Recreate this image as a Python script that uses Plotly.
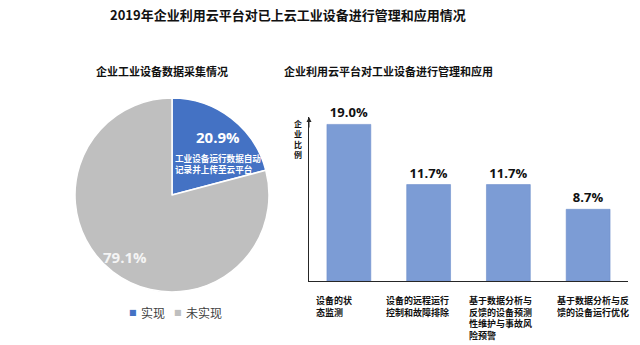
import plotly.graph_objects as go

# ---- data ----
pie_labels = ["实现", "未实现"]
pie_values = [20.9, 79.1]
pie_colors = ["#4472C4", "#BFBFBF"]
pie_note = "工业设备运行数据自动<br>记录并上传至云平台"

bar_categories = [
    "设备的状<br>态监测",
    "设备的远程运行<br>控制和故障排除",
    "基于数据分析与<br>反馈的设备预测<br>性维护与事故风<br>险预警",
    "基于数据分析与反<br>馈的设备运行优化",
]
bar_values = [19.0, 11.7, 11.7, 8.7]

title_text = "2019年企业利用云平台对已上云工业设备进行管理和应用情况"
pie_title = "企业工业设备数据采集情况"
bar_title = "企业利用云平台对工业设备进行管理和应用"
y_title = "企<br>业<br>比<br>例"

W, H = 640, 345
CJK = "Noto Sans CJK SC"
LAT = "Open Sans, " + CJK


def px(x):
    return x / W


def py(y):
    return 1 - y / H


def label(text, x, y, size, color="#111111", family=CJK, xanchor="center", **kw):
    return dict(text=text, x=px(x), y=py(y), xref="paper", yref="paper",
                xanchor=xanchor, yanchor=kw.pop("yanchor", "middle"), showarrow=False,
                font=dict(family=family, size=size, color=color), **kw)


fig = go.Figure()

fig.add_trace(go.Pie(
    labels=pie_labels,
    values=pie_values,
    marker=dict(colors=pie_colors, line=dict(color="white", width=1.5)),
    sort=False,
    direction="clockwise",
    rotation=0,
    textinfo="none",
    hoverinfo="label+percent",
    domain=dict(x=[px(75), px(269)], y=[py(292), py(98)]),
    showlegend=False,
))

fig.add_trace(go.Bar(
    x=list(range(len(bar_categories))),
    y=bar_values,
    marker=dict(color="#7C9CD5", line=dict(color="#6F8FCB", width=0.6)),
    width=0.55,
    text=[f"{v:.1f}%" for v in bar_values],
    textposition="outside",
    textfont=dict(family=LAT, size=13, color="#111111", weight="bold"),
    cliponaxis=False,
    showlegend=False,
    hoverinfo="y",
))

annotations = [
    label(f"<b>{title_text}</b>", 288, 15, 13),
    label(f"<b>{pie_title}</b>", 162, 71, 11),
    label(f"<b>{bar_title}</b>", 388, 71, 11),
    # pie slice labels
    label(f"<b>{pie_values[0]:.1f}%</b>", 218, 137, 15, color="white", family=LAT),
    label(f"<b>{pie_note}</b>", 173, 163, 8.6, color="white", xanchor="left", align="left"),
    label(f"<b>{pie_values[1]:.1f}%</b>", 125, 257, 15, color="#F4F4F4", family=LAT),
    # y axis title and arrow
    label(f"<b>{y_title}</b>", 298, 116, 8, yanchor="top"),
    dict(text="", x=0, y=1, xref="x domain", yref="y domain", ax=0, ay=12,
         showarrow=True, arrowhead=2, arrowsize=1, arrowwidth=1, arrowcolor="#262626"),
]

# pie legend: small colour square followed by the label
legend_x = [(133, 139), (178, 184)]
for (sx, tx), name, col in zip(legend_x, pie_labels, pie_colors):
    annotations.append(label("■", sx, 312, 8, color=col, family="DejaVu Sans"))
    annotations.append(label(name, tx, 312, 12, color="#404040", xanchor="left"))

# category labels under the axis, left aligned
label_shift = [-35, -45, -41, -33]
for i, cat in enumerate(bar_categories):
    annotations.append(dict(
        text=f"<b>{cat}</b>", x=i, y=0, xref="x", yref="y domain",
        xanchor="left", yanchor="top", align="left", xshift=label_shift[i], yshift=-11,
        showarrow=False, font=dict(family=CJK, size=9, color="#111111"),
    ))

fig.update_layout(
    width=W, height=H,
    margin=dict(l=0, r=0, t=0, b=0),
    paper_bgcolor="white", plot_bgcolor="white",
    font=dict(family=CJK),
    annotations=annotations,
    showlegend=False,
    xaxis=dict(domain=[px(309), px(628)], range=[-0.5, 3.5], showticklabels=False,
               showgrid=False, zeroline=False, showline=True, linecolor="#262626",
               linewidth=1, ticks=""),
    yaxis=dict(domain=[py(281), py(117)], range=[0, 19.9], showticklabels=False,
               showgrid=False, zeroline=False, showline=True, linecolor="#262626",
               linewidth=1, ticks=""),
)

fig.write_html("out.html")
